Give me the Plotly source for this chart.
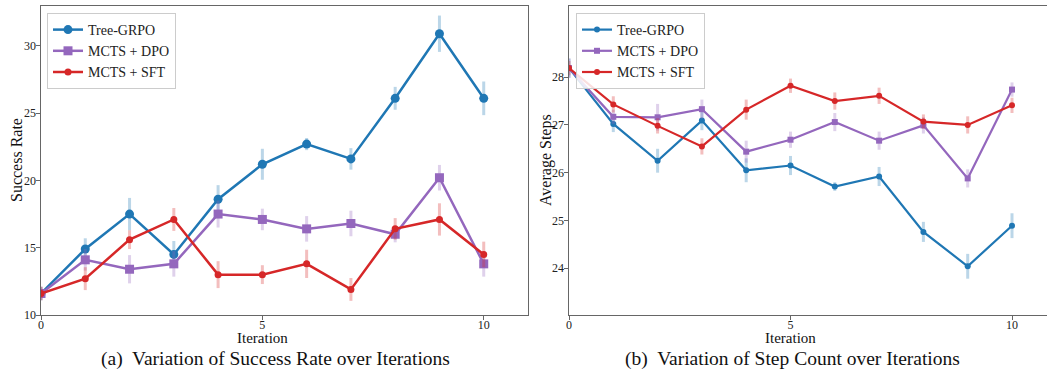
import plotly.graph_objects as go

iterations = list(range(11))
series_names = ["Tree-GRPO", "MCTS + DPO", "MCTS + SFT"]

# (a) Success rate
sr_tree = [11.6, 14.9, 17.5, 14.5, 18.6, 21.2, 22.7, 21.6, 26.1, 30.9, 26.1]
sr_tree_err = [0.5, 0.8, 1.2, 1.0, 1.05, 1.15, 0.45, 0.8, 0.85, 1.35, 1.25]
sr_dpo = [11.6, 14.1, 13.4, 13.8, 17.5, 17.1, 16.4, 16.8, 16.0, 20.2, 13.8]
sr_dpo_err = [0.5, 0.8, 1.05, 0.95, 1.0, 0.8, 0.95, 0.95, 0.6, 0.95, 0.95]
sr_sft = [11.6, 12.7, 15.6, 17.1, 13.0, 13.0, 13.8, 11.9, 16.4, 17.1, 14.5]
sr_sft_err = [0.5, 0.85, 0.7, 0.85, 1.0, 0.7, 1.05, 0.85, 0.8, 1.2, 0.95]

# (b) Average steps
st_tree = [28.19, 27.02, 26.25, 27.09, 26.05, 26.15, 25.71, 25.92, 24.76, 24.04, 24.89]
st_tree_err = [0.2, 0.17, 0.25, 0.2, 0.25, 0.2, 0.09, 0.2, 0.21, 0.26, 0.26]
st_dpo = [28.19, 27.17, 27.16, 27.33, 26.44, 26.69, 27.06, 26.67, 26.99, 25.88, 27.74]
st_dpo_err = [0.2, 0.15, 0.28, 0.2, 0.23, 0.17, 0.19, 0.19, 0.17, 0.19, 0.15]
st_sft = [28.19, 27.43, 26.98, 26.55, 27.32, 27.82, 27.50, 27.61, 27.07, 27.00, 27.41]
st_sft_err = [0.15, 0.17, 0.16, 0.17, 0.21, 0.15, 0.18, 0.17, 0.15, 0.18, 0.16]

colors = ["#1f77b4", "#9467bd", "#d62728"]
err_colors = ["rgba(31,119,180,0.3)", "rgba(148,103,189,0.3)", "rgba(214,39,40,0.3)"]
symbols = ["circle", "square", "circle"]

FONT = "Liberation Serif"
W, H = 1047, 374

fig = go.Figure()

left_sets = [(sr_tree, sr_tree_err), (sr_dpo, sr_dpo_err), (sr_sft, sr_sft_err)]
right_sets = [(st_tree, st_tree_err), (st_dpo, st_dpo_err), (st_sft, st_sft_err)]
left_sizes = [9, 9, 7]
right_sizes = [6, 6, 6]

for i, (vals, errs) in enumerate(left_sets):
    fig.add_trace(go.Scatter(
        x=iterations, y=vals, mode="lines+markers", name=series_names[i],
        line=dict(color=colors[i], width=2.5),
        marker=dict(symbol=symbols[i], size=left_sizes[i], color=colors[i]),
        error_y=dict(type="data", array=errs, visible=True, color=err_colors[i],
                     thickness=3, width=0),
        xaxis="x", yaxis="y", legend="legend"))

for i, (vals, errs) in enumerate(right_sets):
    fig.add_trace(go.Scatter(
        x=iterations, y=vals, mode="lines+markers", name=series_names[i],
        line=dict(color=colors[i], width=2.2),
        marker=dict(symbol=symbols[i], size=right_sizes[i], color=colors[i]),
        error_y=dict(type="data", array=errs, visible=True, color=err_colors[i],
                     thickness=3, width=0),
        xaxis="x2", yaxis="y2", legend="legend2"))

axis_common = dict(
    showgrid=False, zeroline=False, showline=True, linecolor="#666666", linewidth=1.2,
    ticks="outside", ticklen=3.5, tickcolor="#666666",
    tickfont=dict(family=FONT, size=12, color="#222222"),
    automargin=False,
)

ydom = [(H - 315) / H, (H - 6) / H]

legend_common = dict(
    xanchor="left", yanchor="top",
    bgcolor="rgba(255,255,255,0.85)", bordercolor="#cccccc", borderwidth=1,
    font=dict(family=FONT, size=14, color="#222222"),
    tracegroupgap=0, itemwidth=30,
)


def title_ann(text, x, y, angle=0, size=16):
    return dict(text=text, x=x, y=y, xref="paper", yref="paper", showarrow=False,
                xanchor="center", yanchor="middle", textangle=angle,
                font=dict(family=FONT, size=size, color="#111111"))


fig.update_layout(
    width=W, height=H,
    margin=dict(l=0, r=0, t=0, b=0),
    paper_bgcolor="white", plot_bgcolor="white",
    font=dict(family=FONT, color="#222222"),
    xaxis=dict(domain=[41 / W, 528 / W], range=[0, 11], tickvals=[0, 5, 10],
               mirror=True, anchor="y", ticklabelstandoff=-5, **axis_common),
    yaxis=dict(domain=ydom, range=[10, 32.96], tickvals=[10, 15, 20, 25, 30],
               mirror=True, anchor="x", ticklabelstandoff=-2, **axis_common),
    xaxis2=dict(domain=[569 / W, 1.0], range=[0, 10.79], tickvals=[0, 5, 10],
                mirror=True, anchor="y2", ticklabelstandoff=-5, **axis_common),
    yaxis2=dict(domain=ydom, range=[23.02, 29.49], tickvals=[24, 25, 26, 27, 28],
                mirror=False, anchor="x2", ticklabelstandoff=-2, **axis_common),
    legend=dict(x=47 / W, y=(H - 13) / H, **legend_common),
    legend2=dict(x=576 / W, y=(H - 13) / H, **legend_common),
    annotations=[
        title_ann("Iteration", 262 / W, (H - 338) / H, size=15),
        title_ann("Iteration", 790 / W, (H - 338) / H, size=15),
        title_ann("Success Rate", 16 / W, (H - 160) / H, -90),
        title_ann("Average Steps", 546 / W, (H - 160) / H, -90),
        title_ann("(a)  Variation of Success Rate over Iterations", 275 / W, (H - 358.5) / H, size=19.5),
        title_ann("(b)  Variation of Step Count over Iterations", 792 / W, (H - 358.5) / H, size=19.5),
    ],
)

fig.write_html("out.html")
